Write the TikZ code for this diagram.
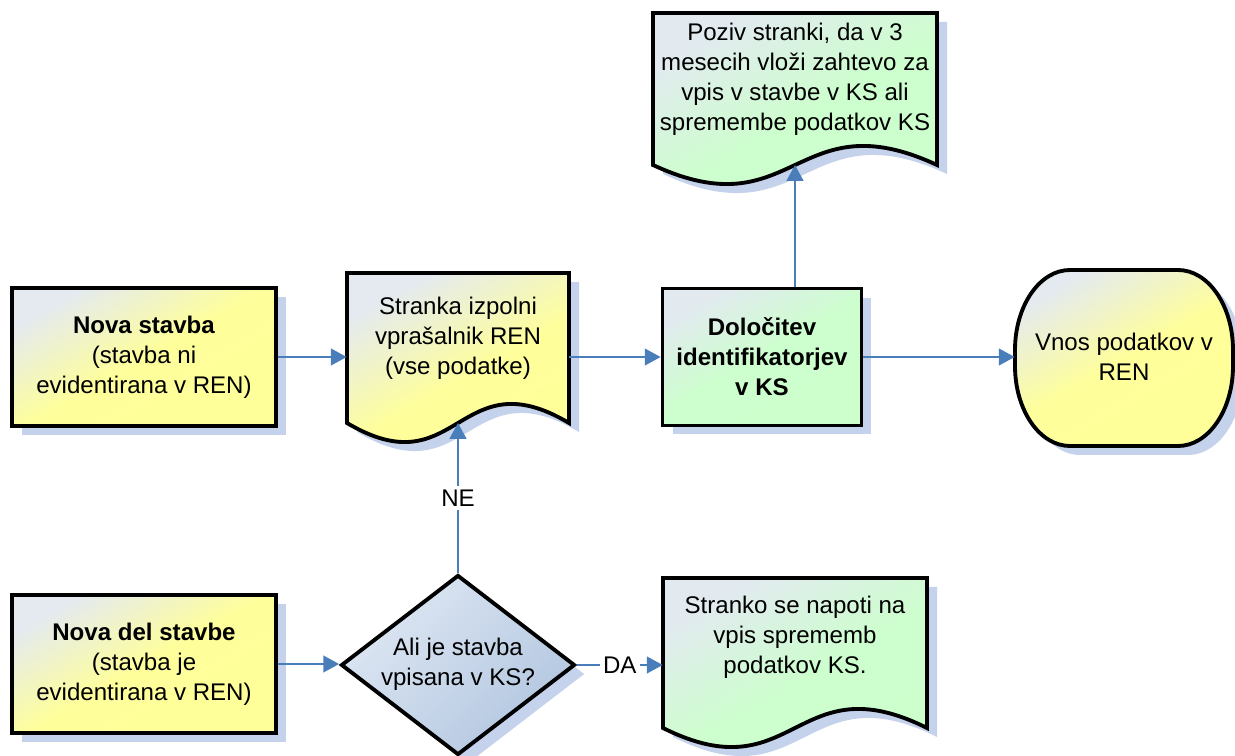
\documentclass[tikz,border=0pt]{standalone}
\usepackage{fontspec}
\setmainfont{Liberation Sans}
\usetikzlibrary{arrows.meta,shapes.geometric,shadows}

\definecolor{flowblue}{HTML}{4A7EBB}
\definecolor{shadowc}{HTML}{C4D2EC}
\definecolor{yel}{HTML}{FFFF99}
\definecolor{yellight}{HTML}{E4EAF0}
\definecolor{grn}{HTML}{CCFFCC}
\definecolor{grnlight}{HTML}{E2EAF0}
\definecolor{dialight}{HTML}{DEE7F3}
\definecolor{diadark}{HTML}{B2C6E0}

\tikzset{
  txt/.style={font=\fontsize{13.7}{17}\selectfont, align=center, inner sep=0pt},
  outline/.style={draw=black, line width=2.2pt},
  yelshade/.style={top color=yellight, bottom color=yel, middle color=yel!97!yellight, shading angle=30},
  grnshade/.style={top color=grnlight, bottom color=grn, middle color=grn!97!grnlight, shading angle=30},
  diashade/.style={top color=dialight, bottom color=diadark, shading angle=45},
  boxshadow/.style={drop shadow={shadow xshift=0.2cm, shadow yshift=-0.18cm, fill=shadowc, opacity=1}},
  shadowfill/.style={fill=shadowc},
  arr/.style={draw=flowblue, line width=1.2pt, -{Triangle[length=9pt,width=9.5pt]}},
  lbl/.style={txt, fill=white, inner sep=2pt},
}

% document symbol: flat top, wavy bottom; args: style, left, top, right, side bottom
\newcommand\docshape[5]{%
  \path[#1] (#2,#3) -- (#4,#3) -- (#4,#5)
    .. controls ({(#2+#4)/2},{#5-66}) and ({(#2+#4)/2},{#5+66}) .. (#2,#5) -- cycle;}

% terminator with elliptic ends
\newcommand\termshape[1]{%
  \path[#1] (1070,270) -- (1178,270)
    arc[start angle=-90, end angle=0, x radius=55, y radius=80] -- (1233,366)
    arc[start angle=0, end angle=90, x radius=55, y radius=80] -- (1070,446)
    arc[start angle=90, end angle=180, x radius=55, y radius=80] -- (1015,350)
    arc[start angle=180, end angle=270, x radius=55, y radius=80] -- cycle;}

\begin{document}
\begin{tikzpicture}[x=0.02cm, y=-0.02cm]
\useasboundingbox (0,0) rectangle (1235,756);

% shadows of the free-form shapes
\begin{scope}[shift={(10,9)}]
  \docshape{shadowfill}{347}{273}{569}{423}
  \docshape{shadowfill}{653}{13}{937}{165}
  \docshape{shadowfill}{663}{578}{927}{728}
  \termshape{shadowfill}
\end{scope}

% free-form shapes
\docshape{outline, yelshade}{347}{273}{569}{423}
\docshape{outline, grnshade}{653}{13}{937}{165}
\docshape{outline, grnshade}{663}{578}{927}{728}
\termshape{outline, yelshade}

% boxes
\node[txt, outline, yelshade, boxshadow, minimum width=5.28cm, minimum height=2.76cm]
  (nova) at (144,357) {\textbf{Nova stavba}\\(stavba ni\\evidentirana v REN)};
\node[txt, outline, yelshade, boxshadow, minimum width=5.28cm, minimum height=2.76cm]
  (novadel) at (144,664) {\textbf{Nova del stavbe}\\(stavba je\\evidentirana v REN)};
\node[txt, outline, grnshade, boxshadow, minimum width=3.98cm, minimum height=2.74cm]
  (dolo) at (762,357) {\textbf{Določitev}\\\textbf{identifikatorjev}\\\textbf{v KS}};
\node[txt, diamond, outline, diashade, boxshadow, minimum width=4.68cm, minimum height=3.6cm]
  (ali) at (458,665) {};
\node[txt] (ali-t) at (458,664) {Ali je stavba\\vpisana v KS?};

% texts of the free-form shapes
\node[txt, minimum width=4.44cm] (stranka) at (458,338) {Stranka izpolni\\vprašalnik REN\\(vse podatke)};
\node[txt, minimum width=5.68cm] (poziv) at (795,79) {Poziv stranki, da v 3\\mesecih vloži zahtevo za\\vpis v stavbe v KS ali\\spremembe podatkov KS};
\node[txt, minimum width=5.28cm] (stranko) at (795,637) {Stranko se napoti na\\vpis sprememb\\podatkov KS.};
\node[txt, minimum width=4.36cm, minimum height=3.52cm] (vnos) at (1124,357) {Vnos podatkov v\\REN};

\coordinate (stranka-in) at (458,423);
\coordinate (poziv-in) at (795,165);

% connectors
\draw[arr] (nova.east) -- (nova.east -| stranka.west);
\draw[arr] (stranka.east |- dolo.west) -- (dolo.west);
\draw[arr] (dolo.east) -- (dolo.east -| vnos.west);
\draw[arr] (poziv-in |- dolo.north) -- (poziv-in);
\draw[arr] (novadel.east) -- (novadel.east -| ali.west);
\draw[arr] (ali.north) -- node[lbl] {NE} (stranka-in);
\draw[arr] (ali.east) -- node[lbl] {DA} (ali.east -| stranko.west);
\end{tikzpicture}
\end{document}
